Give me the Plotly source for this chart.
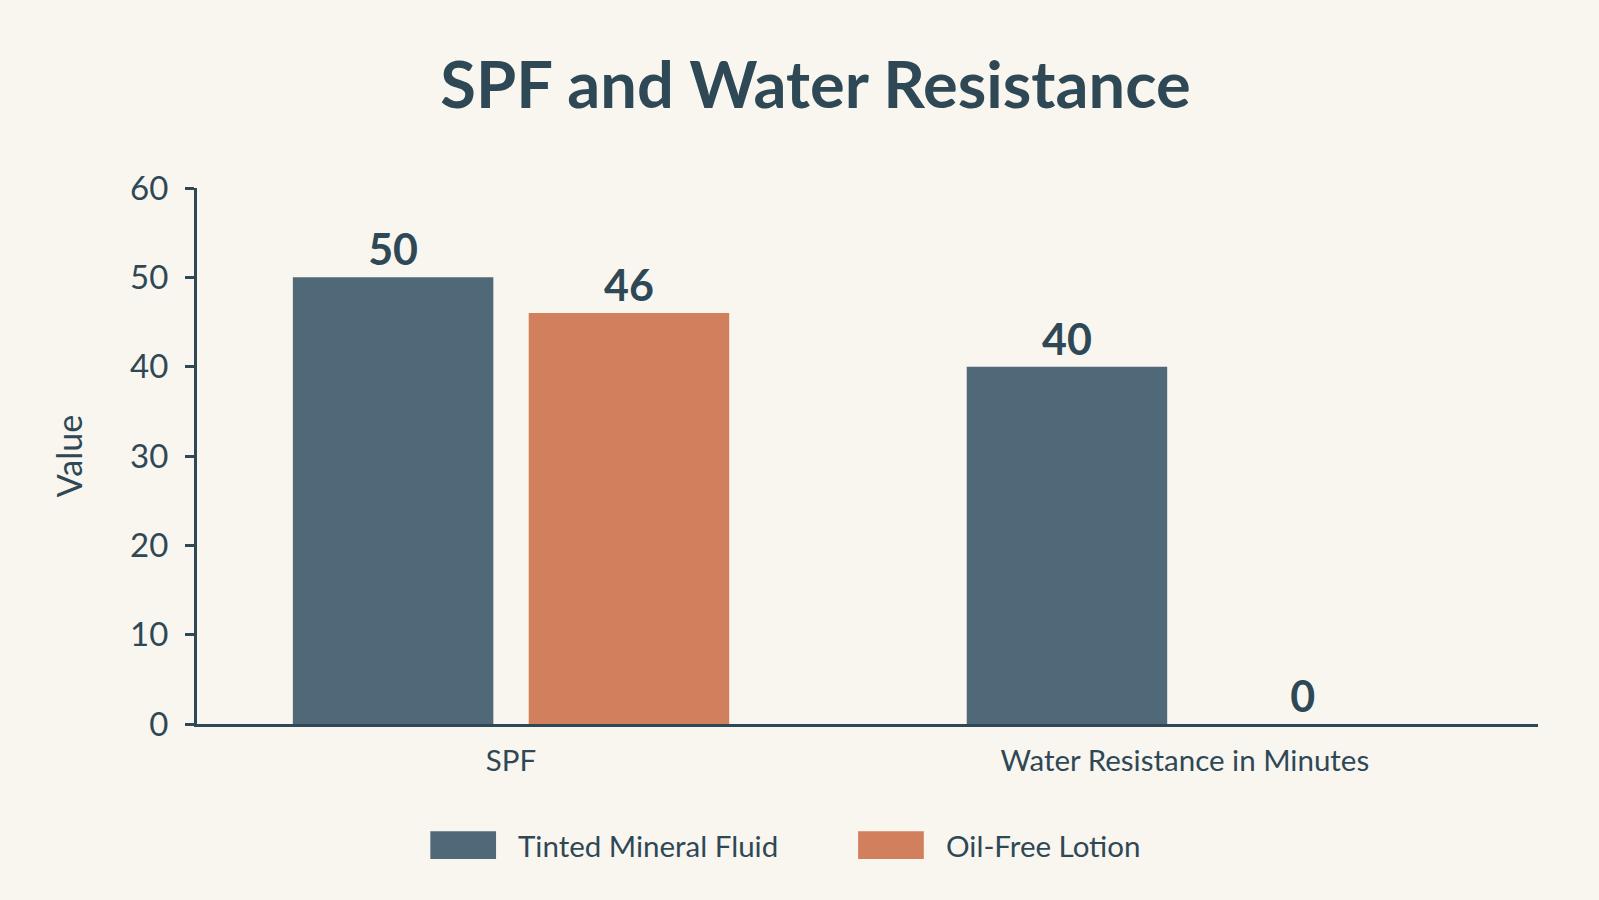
import plotly.graph_objects as go

categories = ['SPF', 'Water Resistance in Minutes']
series_names = ['Tinted Mineral Fluid', 'Oil-Free Lotion']
tinted_values = [50, 40]
oilfree_values = [46, 0]
y_ticks = [0, 10, 20, 30, 40, 50, 60]

colors = ['#4F6978', '#D17F5C']
text_color = '#2E4856'
bg = '#F9F6F0'
font = 'Lato'


def main():
    fig = go.Figure()
    for name, values, color in zip(series_names, [tinted_values, oilfree_values], colors):
        fig.add_trace(go.Bar(
            x=categories, y=values, name=name,
            marker=dict(color=color, line=dict(width=0)),
            text=values, textposition='outside', cliponaxis=False,
            textfont=dict(family=font, size=43, color=text_color, weight='bold'),
        ))

    # legend drawn by hand so the swatches can be wide rectangles
    swatch_x = [0.174, 0.493]
    for name, color, x0 in zip(series_names, colors, swatch_x):
        fig.add_shape(type='rect', xref='paper', yref='paper',
                      x0=x0, x1=x0 + 0.049, y0=-0.252, y1=-0.2, fillcolor=color, line=dict(width=0))
        fig.add_annotation(xref='paper', yref='paper', x=x0 + 0.064, y=-0.226, text=name,
                           showarrow=False, xanchor='left', yanchor='middle',
                           font=dict(family=font, size=29.5, color=text_color))

    fig.update_layout(
        width=1599, height=900,
        paper_bgcolor=bg, plot_bgcolor=bg,
        margin=dict(l=197, r=61, t=188, b=176),
        showlegend=False,
        barmode='group', bargap=0.3, bargroupgap=0.15,
        title=dict(text='<b>SPF and Water Resistance</b>', x=0.51, xanchor='center', y=0.905, yanchor='middle',
                   font=dict(family=font, size=65, color=text_color)),
        font=dict(family=font, color=text_color),
    )
    fig.update_yaxes(
        range=[0, 60], tickvals=y_ticks, showgrid=False, zeroline=False,
        showline=True, linecolor=text_color, linewidth=3,
        ticks='outside', ticklen=9, tickwidth=3, tickcolor=text_color,
        ticklabelstandoff=10,
        tickfont=dict(family=font, size=33, color=text_color),
        title=dict(text='Value', font=dict(family=font, size=34, color=text_color), standoff=38),
    )
    fig.update_xaxes(
        range=[-0.466, 1.524],
        showgrid=False, showline=True, linecolor=text_color, linewidth=3,
        ticks='', ticklabelstandoff=9,
        tickfont=dict(family=font, size=29.5, color=text_color),
    )
    fig.write_html('out.html', config={'displayModeBar': False},
                   post_script="document.body.style.margin='0';")


if __name__ == '__main__':
    main()
